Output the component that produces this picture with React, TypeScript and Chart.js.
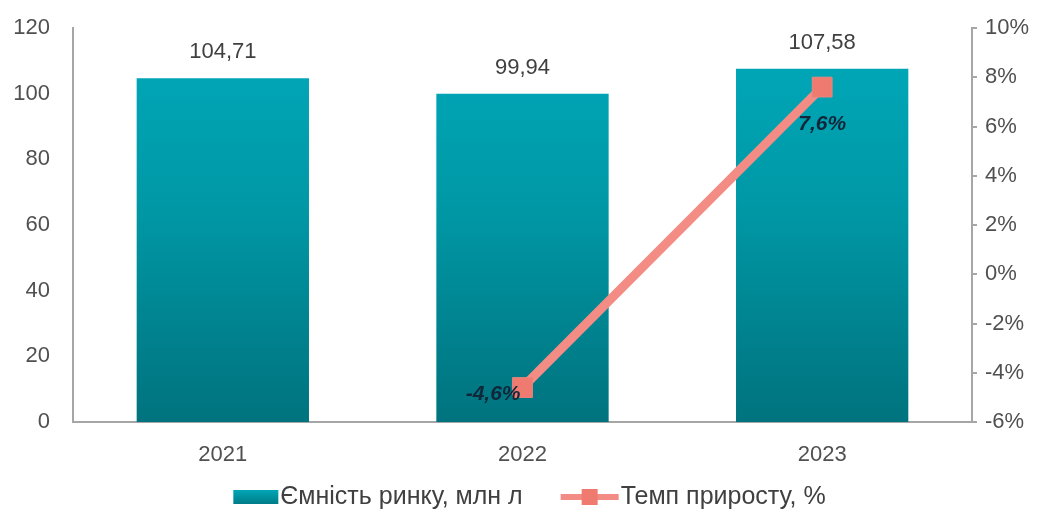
import React, { useEffect, useRef } from "react";
import { Chart, registerables } from "chart.js";

Chart.register(...registerables);

const years = ["2021", "2022", "2023"];
const capacity = [104.71, 99.94, 107.58];
const growth: (number | null)[] = [null, -4.6, 7.6];
const capacityLabel = "Ємність ринку, млн л";
const growthLabel = "Темп приросту, %";

const FONT = "'Liberation Sans', Arial, sans-serif";
const AXIS_GREY = "#A6A6A6";
const TEXT_GREY = "#505050";
const LINE_COLOR = "#F28C84";
const MARKER_COLOR = "#EF7A70";

const fmt = (v: number, d: number) => v.toFixed(d).replace(".", ",");

// Value labels above the bars and next to the growth markers
const valueLabels = {
  id: "valueLabels",
  afterDatasetsDraw(chart: any) {
    const ctx = chart.ctx;
    ctx.save();
    const barMeta = chart.getDatasetMeta(0);
    ctx.font = `22px ${FONT}`;
    ctx.fillStyle = "#404040";
    ctx.textAlign = "center";
    ctx.textBaseline = "middle";
    barMeta.data.forEach((el: any, i: number) => {
      ctx.fillText(fmt(capacity[i], 2), el.x, el.y - 26);
    });
    const lineMeta = chart.getDatasetMeta(1);
    ctx.font = `italic bold 21px ${FONT}`;
    ctx.fillStyle = "#10273A";
    lineMeta.data.forEach((el: any, i: number) => {
      const v = growth[i];
      if (v == null) return;
      const text = fmt(v, 1) + "%";
      if (v < 0) {
        ctx.textAlign = "right";
        ctx.fillText(text, el.x - 2, el.y + 7);
      } else {
        ctx.textAlign = "center";
        ctx.fillText(text, el.x, el.y + 37);
      }
    });
    ctx.restore();
  },
};

// Legend row under the category labels
const bottomLegend = {
  id: "bottomLegend",
  afterDraw(chart: any) {
    const ctx = chart.ctx;
    ctx.save();
    ctx.font = `25px ${FONT}`;
    ctx.textBaseline = "middle";
    const y = 497;
    const swatchW = 45;
    const lineW = 58;
    const gap = 2;
    const between = 38;
    const w1 = ctx.measureText(capacityLabel).width;
    const w2 = ctx.measureText(growthLabel).width;
    const total = swatchW + gap + w1 + between + lineW + gap + w2;
    let x = (chart.width - total) / 2 + 8;

    const grad = ctx.createLinearGradient(0, y - 7, 0, y + 7);
    grad.addColorStop(0, "#00A6B6");
    grad.addColorStop(1, "#007C87");
    ctx.fillStyle = grad;
    ctx.fillRect(x, y - 7, swatchW, 14);
    x += swatchW + gap;
    ctx.fillStyle = "#404040";
    ctx.textAlign = "left";
    ctx.fillText(capacityLabel, x, y);
    x += w1 + between;

    ctx.strokeStyle = LINE_COLOR;
    ctx.lineWidth = 6;
    ctx.beginPath();
    ctx.moveTo(x, y);
    ctx.lineTo(x + lineW, y);
    ctx.stroke();
    ctx.fillStyle = MARKER_COLOR;
    ctx.fillRect(x + lineW / 2 - 8, y - 8, 16, 16);
    x += lineW + gap;
    ctx.fillStyle = "#404040";
    ctx.fillText(growthLabel, x, y);
    ctx.restore();
  },
};

// Keep the plot box at fixed offsets regardless of label overhang
const fixVertical = (width: number) => (scale: any) => {
  scale.width = width;
  scale.paddingTop = 0;
  scale.paddingBottom = 0;
};

export default function App() {
  const canvasRef = useRef<HTMLCanvasElement | null>(null);

  useEffect(() => {
    document.body.style.margin = "0";
    const canvas = canvasRef.current;
    if (!canvas) return;

    const chart = new Chart(canvas, {
      data: {
        labels: years,
        datasets: [
          {
            type: "bar",
            label: capacityLabel,
            data: capacity,
            yAxisID: "y",
            order: 2,
            barPercentage: 0.575,
            categoryPercentage: 1,
            backgroundColor: (c: any) => {
              const area = c.chart.chartArea;
              if (!area) return "#0095A5";
              const g = c.chart.ctx.createLinearGradient(0, area.top, 0, area.bottom);
              g.addColorStop(0, "#00AABB");
              g.addColorStop(0.45, "#0098A6");
              g.addColorStop(1, "#00737E");
              return g;
            },
          },
          {
            type: "line",
            label: growthLabel,
            data: growth,
            yAxisID: "y1",
            order: 1,
            borderColor: LINE_COLOR,
            borderWidth: 9,
            pointStyle: "rect",
            pointRadius: 14,
            pointBackgroundColor: MARKER_COLOR,
            pointBorderColor: "#E8877E",
            pointBorderWidth: 1,
            tension: 0,
          },
        ],
      } as any,
      options: {
        animation: false,
        responsive: true,
        maintainAspectRatio: false,
        layout: { padding: { top: 28, left: 0, right: 0, bottom: 0 } },
        plugins: {
          legend: { display: false },
          tooltip: { enabled: false },
        },
        scales: {
          x: {
            afterFit(scale: any) {
              scale.height = 93;
              scale.paddingLeft = 0;
              scale.paddingRight = 0;
            },
            grid: { display: false, drawTicks: false },
            border: { display: true, color: AXIS_GREY, width: 2 },
            ticks: {
              padding: 20,
              color: TEXT_GREY,
              font: { family: FONT, size: 22 },
            },
          },
          y: {
            position: "left",
            min: 0,
            max: 120,
            afterFit: fixVertical(73),
            grid: { display: false, drawTicks: false },
            border: { display: true, color: AXIS_GREY, width: 2 },
            ticks: {
              stepSize: 20,
              padding: 23,
              color: TEXT_GREY,
              font: { family: FONT, size: 22 },
            },
          },
          y1: {
            position: "right",
            min: -6,
            max: 10,
            afterFit: fixVertical(71),
            grid: {
              drawOnChartArea: false,
              drawTicks: true,
              tickLength: 5,
              color: AXIS_GREY,
              lineWidth: 2,
            },
            border: { display: true, color: AXIS_GREY, width: 2 },
            ticks: {
              stepSize: 2,
              padding: 8,
              color: TEXT_GREY,
              font: { family: FONT, size: 22 },
              callback: (v: any) => `${v}%`,
            },
          },
        },
      } as any,
      plugins: [valueLabels, bottomLegend],
    });

    return () => chart.destroy();
  }, []);

  return (
    <div style={{ position: "relative", width: 1043, height: 515 }}>
      <canvas ref={canvasRef} />
    </div>
  );
}
